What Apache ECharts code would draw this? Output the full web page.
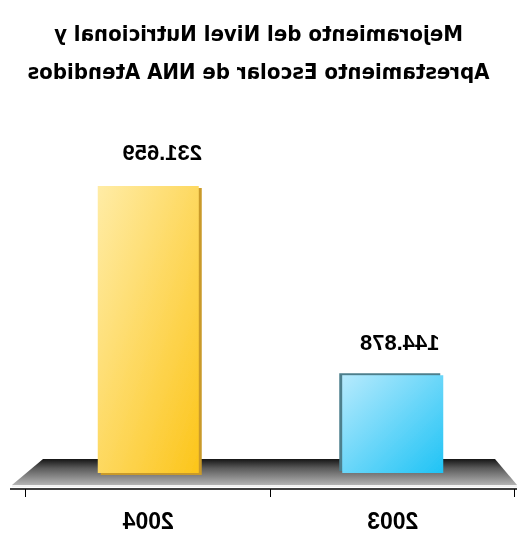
<!DOCTYPE html>
<html>
<head>
<meta charset="utf-8">
<script src="https://cdn.jsdelivr.net/npm/echarts@6/dist/echarts.min.js"></script>
<style>
  html, body { margin: 0; padding: 0; background: #fff; }
  /* the reference picture is a mirror image, so the whole chart is flipped */
  #chart { width: 517px; height: 534px; transform: scaleX(-1); }
</style>
</head>
<body>
<div id="chart"></div>
<script>
const titleLines = ['Mejoramiento del Nivel Nutricional y', 'Aprestamiento Escolar de NNA Atendidos'];
const years = ['2003', '2004'];
const attended = [144878, 231659];
const axisMin = 100000;
const axisMax = 250000;

const fmt = v => String(v).replace(/\B(?=(\d{3})+(?!\d))/g, '.');

const barStyles = [
  {
    color: new echarts.graphic.LinearGradient(1, 0, 0, 1, [
      { offset: 0, color: '#b6eafd' },
      { offset: 1, color: '#1fc3f5' }
    ]),
    shadowColor: '#4d7f8c', shadowOffsetX: 3, shadowOffsetY: -2, shadowBlur: 0
  },
  {
    color: new echarts.graphic.LinearGradient(1, 0, 0, 1, [
      { offset: 0, color: '#ffeca6' },
      { offset: 1, color: '#fcc51a' }
    ]),
    shadowColor: '#c99a2a', shadowOffsetX: -3, shadowOffsetY: 2, shadowBlur: 0
  }
];
const labelShift = [[-7, 0], [-14, 0]];

const chart = echarts.init(document.getElementById('chart'), null, { renderer: 'svg' });
chart.setOption({
  animation: false,
  title: {
    text: titleLines.join('\n'),
    left: 'center',
    top: 9,
    textStyle: { fontFamily: '"DejaVu Sans Condensed", "Liberation Sans", sans-serif', fontSize: 22, fontWeight: 'bold', color: '#000', lineHeight: 38 }
  },
  grid: { left: 2, right: 26, top: 146, bottom: 61 },
  xAxis: {
    type: 'category',
    data: years,
    offset: 16,
    axisLine: { show: false },
    axisTick: { show: true, length: 8, lineStyle: { color: '#000', width: 1 } },
    axisLabel: { margin: 20, fontFamily: 'Liberation Sans', fontSize: 23, fontWeight: 'bold', color: '#000' }
  },
  yAxis: { type: 'value', min: axisMin, max: axisMax, show: false, splitLine: { show: false } },
  series: [{
    type: 'bar',
    z: 3,
    barWidth: 101,
    data: attended.map((v, i) => ({ value: v, itemStyle: barStyles[i], label: { offset: labelShift[i] } })),
    label: {
      show: true,
      position: 'top',
      distance: 22,
      formatter: p => fmt(p.value),
      fontFamily: 'Liberation Sans', fontSize: 22, fontWeight: 'bold', color: '#000'
    }
  }]
});

// grey 3D floor under the bars and the long axis line
const base = chart.convertToPixel({ yAxisIndex: 0 }, axisMin);
const W = chart.getWidth();
chart.setOption({
  graphic: [
    {
      type: 'polygon', z: 1,
      shape: { points: [[22, base - 14], [474, base - 14], [505, base + 12], [0, base + 12]] },
      style: {
        fill: new echarts.graphic.LinearGradient(0, 0, 0, 1, [
          { offset: 0, color: '#151515' },
          { offset: 0.35, color: '#5a5a5a' },
          { offset: 1, color: '#b4b4b4' }
        ])
      }
    },
    {
      type: 'line', z: 1,
      shape: { x1: 0, y1: base + 13, x2: 505, y2: base + 13 },
      style: { stroke: '#e6e6e6', lineWidth: 1 }
    },
    {
      type: 'line', z: 2,
      shape: { x1: 0, y1: base + 16, x2: W - 10, y2: base + 16 },
      style: { stroke: '#000', lineWidth: 1.5 }
    }
  ]
});
</script>
</body>
</html>
